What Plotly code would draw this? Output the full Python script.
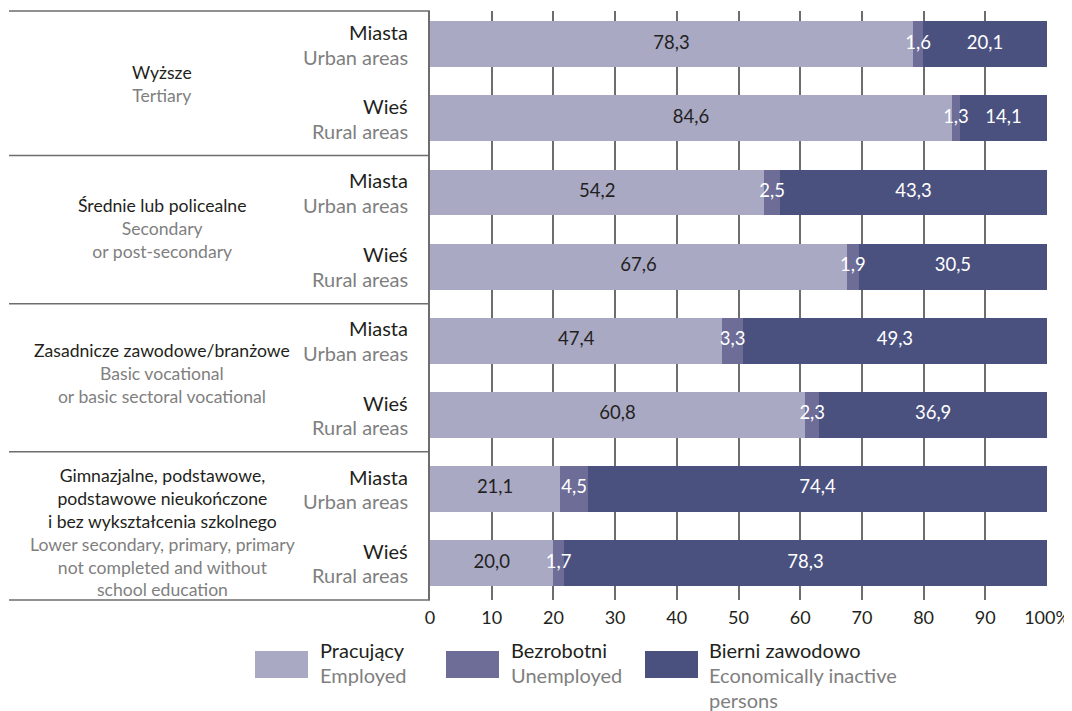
import plotly.graph_objects as go

# ---- data ----
group_pl = ["Wyższe", "Średnie lub policealne", "Zasadnicze zawodowe/branżowe",
            "Gimnazjalne, podstawowe,<br>podstawowe nieukończone<br>i bez wykształcenia szkolnego"]
group_en = ["Tertiary", "Secondary<br>or post-secondary", "Basic vocational<br>or basic sectoral vocational",
            "Lower secondary, primary, primary<br>not completed and without<br>school education"]
area_pl = ["Miasta", "Wieś"]
area_en = ["Urban areas", "Rural areas"]

employed = [78.3, 84.6, 54.2, 67.6, 47.4, 60.8, 21.1, 20.0]
unemployed = [1.6, 1.3, 2.5, 1.9, 3.3, 2.3, 4.5, 1.7]
inactive = [20.1, 14.1, 43.3, 30.5, 49.3, 36.9, 74.4, 78.3]

series_pl = ["Pracujący", "Bezrobotni", "Bierni zawodowo"]
series_en = [["Employed"], ["Unemployed"], ["Economically inactive", "persons"]]

tick_vals = [0, 10, 20, 30, 40, 50, 60, 70, 80, 90, 100]
tick_text = ["0", "10", "20", "30", "40", "50", "60", "70", "80", "90", "100%"]

# ---- style ----
FONT = "Lato"
BLACK = "#231f20"
GREY = "#7f7f7f"
LINE = "#6d6d6d"
colors = ["#a9a9c4", "#6d6d98", "#4a517f"]
label_colors = [BLACK, "white", "white"]

OFF = 8  # page body margin of the browser
W, H = 1072 - OFF, 711 - OFF
L, R, T, B = 430 - OFF, 25, 11 - OFF, 111
PW, PH = W - L - R, H - T - B


def px_x(px):
    return (px - OFF - L) / PW


def px_y(py):
    return (H - B - (py - OFF)) / PH


def fmt(v):
    return f"{v:.1f}".replace(".", ",")


rows = list(range(len(employed)))
fig = go.Figure()
for vals, col, name in zip([employed, unemployed, inactive], colors, series_pl):
    fig.add_trace(go.Bar(
        x=vals, y=rows, orientation="h", width=0.62,
        marker=dict(color=col, line=dict(width=0)),
        name=name, showlegend=False, hoverinfo="skip",
    ))

# value labels on top of all bars (centre of each segment)
starts = [[0] * len(rows),
          employed,
          [e + u for e, u in zip(employed, unemployed)]]
for vals, st, lc in zip([employed, unemployed, inactive], starts, label_colors):
    fig.add_trace(go.Scatter(
        x=[s + v / 2 for s, v in zip(st, vals)], y=rows, mode="text",
        text=[fmt(v) for v in vals], textposition="middle center",
        textfont=dict(family=FONT, size=18.5, color=lc),
        showlegend=False, hoverinfo="skip", cliponaxis=False,
    ))

shapes = []
annotations = []

# separator lines in the left label panel
n_groups = len(group_pl)
seps = [("paper", 1.0)] + [("y", 2 * g + 1.5) for g in range(n_groups - 1)] + [("paper", 0.0)]
for ref, yv in seps:
    shapes.append(dict(type="line", xref="paper", yref=ref, x0=px_x(9), x1=0, y0=yv, y1=yv,
                       line=dict(color=LINE, width=1.5)))

# group labels
g_shift = [0.03, -0.01, -0.06, 0.095]
for g in range(n_groups):
    annotations.append(dict(
        xref="paper", yref="y", x=px_x(162), y=2 * g + 0.5 + g_shift[g],
        text=f"<span style='color:{BLACK}'>{group_pl[g]}</span><br>"
             f"<span style='color:{GREY}'>{group_en[g]}</span>",
        showarrow=False, xanchor="center", yanchor="middle", align="center",
        font=dict(family=FONT, size=17.6, color=BLACK)))

# sub labels (urban / rural)
for r in rows:
    a = r % 2
    annotations.append(dict(xref="paper", yref="y", x=px_x(410), y=r - 0.165, text=area_pl[a],
                            showarrow=False, xanchor="right", yanchor="middle",
                            font=dict(family=FONT, size=20, color=BLACK)))
    annotations.append(dict(xref="paper", yref="y", x=px_x(410), y=r + 0.165, text=area_en[a],
                            showarrow=False, xanchor="right", yanchor="middle",
                            font=dict(family=FONT, size=20, color=GREY)))

# custom legend
leg_x = [255, 446, 645]
leg_tx = [318, 509, 707]
for i in range(3):
    x0 = leg_x[i]
    shapes.append(dict(type="rect", xref="paper", yref="paper", x0=px_x(x0), x1=px_x(x0 + 53),
                       y0=px_y(678), y1=px_y(651), fillcolor=colors[i], line=dict(width=0)))
    lines = [(series_pl[i], BLACK)] + [(t, GREY) for t in series_en[i]]
    for k, (txt, c) in enumerate(lines):
        annotations.append(dict(xref="paper", yref="paper", x=px_x(leg_tx[i]), y=px_y(650 + 25 * k),
                                text=txt, showarrow=False, xanchor="left", yanchor="middle",
                                font=dict(family=FONT, size=20, color=c)))

fig.update_layout(
    width=W, height=H, barmode="stack",
    margin=dict(l=L, r=R, t=T, b=B, pad=0, autoexpand=False),
    paper_bgcolor="white", plot_bgcolor="white",
    font=dict(family=FONT, color=BLACK),
    shapes=shapes, annotations=annotations, showlegend=False,
    xaxis=dict(range=[0, 100], tickvals=tick_vals, ticktext=tick_text, automargin=False,
               showgrid=True, gridcolor=LINE, gridwidth=1.5, zeroline=False,
               showline=False, ticks="", ticklabelstandoff=5,
               tickfont=dict(family=FONT, size=18, color=BLACK),
               fixedrange=True),
    yaxis=dict(range=[7.5, -0.45], showticklabels=False, showgrid=False, zeroline=False,
               automargin=False, showline=True, linecolor=LINE, linewidth=2, ticks="",
               fixedrange=True),
)

fig.write_html("out.html")
